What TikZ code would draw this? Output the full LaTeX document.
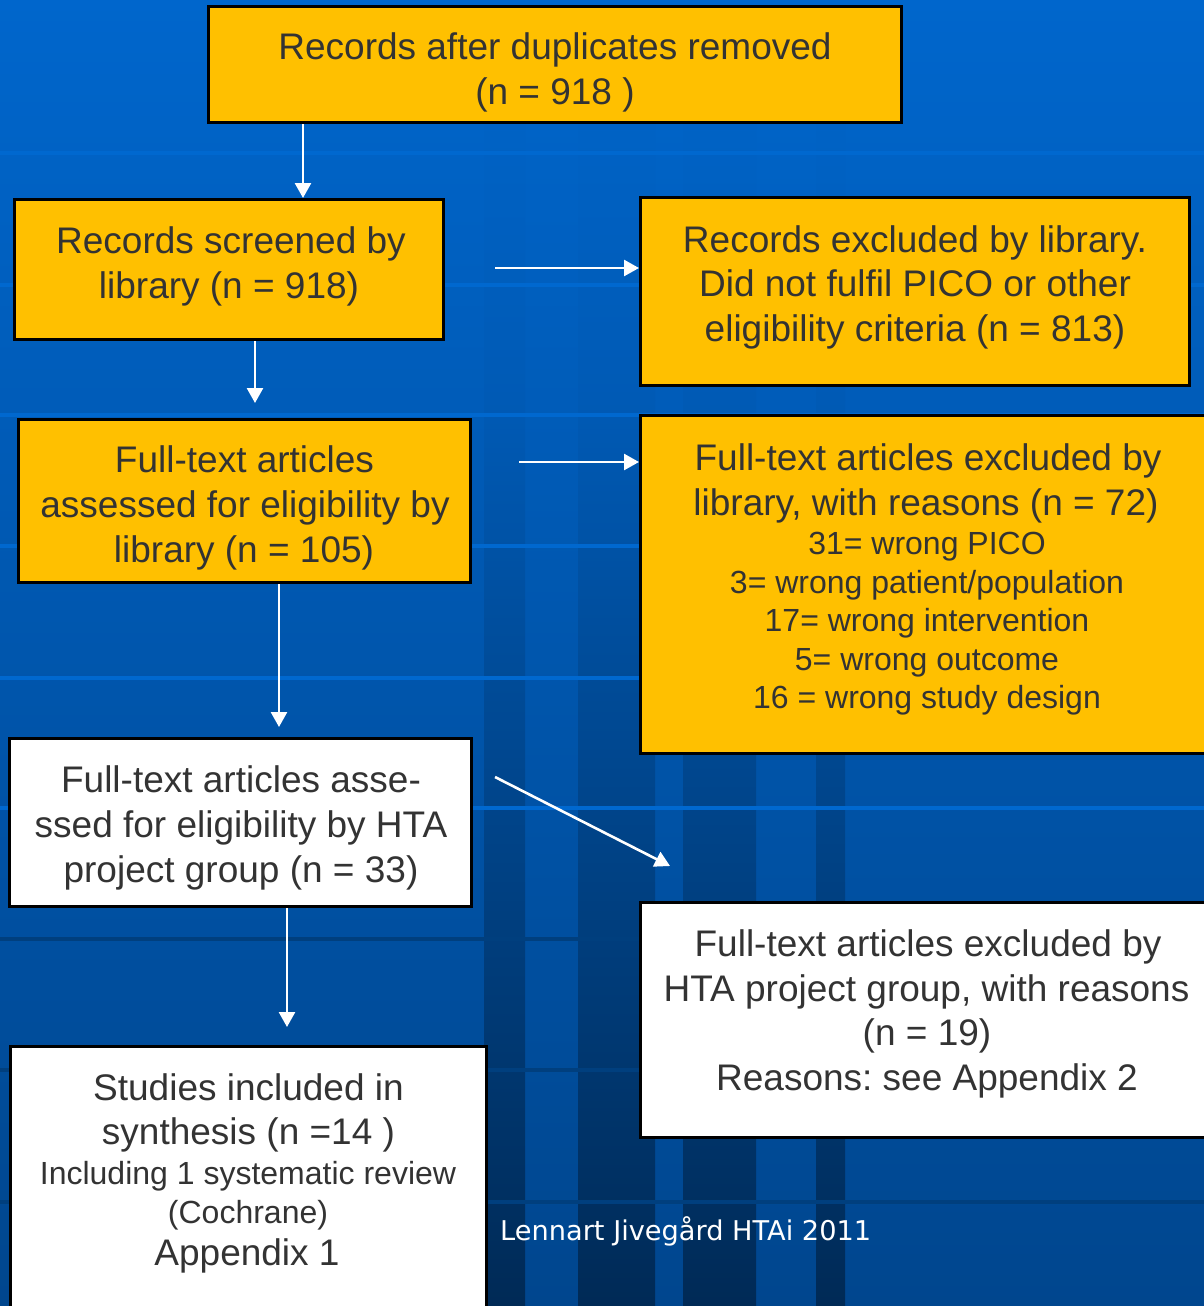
\documentclass[tikz,border=0pt]{standalone}
\usepackage{fontspec}
\setmainfont{Liberation Sans}
\newfontfamily\footfont{DejaVu Sans}
\usetikzlibrary{arrows.meta}
\definecolor{bgtop}{HTML}{0066CC}
\definecolor{bgbot}{HTML}{00468E}
\definecolor{stripemid}{HTML}{005AB5}
\definecolor{stripebot}{HTML}{002A56}
\definecolor{lineLight}{HTML}{0068CF}
\definecolor{lineDark}{HTML}{003F7E}
\definecolor{boxyellow}{HTML}{FFC000}
\definecolor{txt}{HTML}{333333}
\frenchspacing
\begin{document}
\begin{tikzpicture}[x=1pt,y=-1pt,
  box/.style={draw=black,line width=3pt,inner sep=0pt,rectangle},
  ybox/.style={box,fill=boxyellow},
  wbox/.style={box,fill=white},
  big/.style={anchor=base,text=txt,inner sep=0pt,font=\fontsize{37}{44}\selectfont},
  small/.style={anchor=base,text=txt,inner sep=0pt,font=\fontsize{32}{38}\selectfont},
  arr/.style={draw=white,line width=2.6pt,-{Triangle[length=15pt,width=16pt]}},
]
\useasboundingbox (0,0) rectangle (1204,1306);
\clip (0,0) rectangle (1204,1306);

% background: blue gradient with darker vertical bands and thin horizontal rules
\fill[top color=bgtop,bottom color=bgbot] (0,0) rectangle (1204,1306);
\foreach \a/\b in {484/525,578/655,683/756,816/845}{
  \fill[top color=bgtop,bottom color=stripemid] (\a,0) rectangle (\b,400);
  \fill[top color=stripemid,bottom color=stripebot] (\a,400) rectangle (\b,1306);
}
\foreach \y in {153,285,415,546,678,808}
  \fill[lineLight] (0,\y-2) rectangle (1204,\y+2);
\foreach \y in {939,1070,1202}
  \fill[lineDark] (0,\y-2) rectangle (1204,\y+2);

% boxes
\node[ybox,minimum width=693pt,minimum height=116pt] (b1) at (555,64.5) {};
\node[ybox,minimum width=429pt,minimum height=140pt] (b2) at (229,269.5) {};
\node[ybox,minimum width=549pt,minimum height=188pt] (b3) at (915,291.5) {};
\node[ybox,minimum width=452pt,minimum height=163pt] (b4) at (244.5,501) {};
\node[ybox,minimum width=588pt,minimum height=338pt] (b5) at (934.5,584.5) {};
\node[wbox,minimum width=462pt,minimum height=168pt] (b6) at (240.5,822.5) {};
\node[wbox,minimum width=588pt,minimum height=235pt] (b7) at (934.5,1020) {};
\node[wbox,minimum width=476pt,minimum height=292pt] (b8) at (248.5,1192.5) {};

% box texts
\node[big] (t1a) at (555,59.5) {Records after duplicates removed};
\node[big] (t1b) at (555,104.5) {(n = 918 )};

\node[big] (t2a) at (231,253.5) {Records screened by};
\node[big] (t2b) at (229,298.5) {library (n = 918)};

\node[big] (t3a) at (915,252.5) {Records excluded by library.};
\node[big] (t3b) at (915,296.5) {Did not fulfil PICO or other};
\node[big] (t3c) at (915,341.5) {eligibility criteria (n = 813)};

\node[big] (t4a) at (244.5,472.5) {Full-text articles};
\node[big] (t4b) at (245,517.5) {assessed for eligibility by};
\node[big] (t4c) at (244,562.5) {library (n = 105)};

\node[big] (t5a) at (928,470.5) {Full-text articles excluded by};
\node[big] (t5b) at (926,515.5) {library, with reasons (n = 72)};
\node[small] (t5c) at (927,554) {31= wrong PICO};
\node[small] (t5d) at (927,593) {3= wrong patient/population};
\node[small] (t5e) at (927,631) {17= wrong intervention};
\node[small] (t5f) at (927,670) {5= wrong outcome};
\node[small] (t5g) at (927,708) {16 = wrong study design};

\node[big] (t6a) at (241,792.5) {Full-text articles asse-};
\node[big] (t6b) at (241,837.5) {ssed for eligibility by HTA};
\node[big] (t6c) at (241,882.5) {project group (n = 33)};

\node[big] (t7a) at (928,956.5) {Full-text articles excluded by};
\node[big] (t7b) at (926.5,1001.5) {HTA project group, with reasons};
\node[big] (t7c) at (927,1045.5) {(n = 19)};
\node[big] (t7d) at (927,1090.5) {Reasons: see Appendix 2};

\node[big] (t8a) at (248.5,1100.5) {Studies included in};
\node[big] (t8b) at (248.5,1144.5) {synthesis (n =14 )};
\node[small] (t8c) at (248,1184) {Including 1 systematic review};
\node[small] (t8d) at (248,1223) {(Cochrane)};
\node[big] (t8e) at (247,1265.5) {Appendix 1};

% footer
\node[anchor=base west,text=white,inner sep=0pt,font=\footfont\fontsize{27.2}{31}\selectfont] (foot) at (500,1240) {Lennart Jivegård HTAi 2011};

% connectors
\coordinate (xa) at (303,0);
\coordinate (xb) at (255,0);
\coordinate (xe) at (279,0);
\coordinate (xg) at (287,0);
\coordinate (c0) at (495,268);
\coordinate (d0) at (519,462);
\coordinate (bend) at (255,403);
\coordinate (eend) at (279,727);
\coordinate (f0) at (495,777);
\coordinate (f1) at (670,866);
\coordinate (gend) at (287,1027);

\draw[arr] (b1.south -| xa) -- (b2.north -| xa);
\draw[arr] (b2.south -| xb) -- (bend);
\draw[arr] (c0) -- (c0 -| b3.west);
\draw[arr] (d0) -- (d0 -| b5.west);
\draw[arr] (b4.south -| xe) -- (eend);
\draw[arr] (f0) -- (f1);
\draw[arr] (b6.south -| xg) -- (gend);
\end{tikzpicture}
\end{document}
